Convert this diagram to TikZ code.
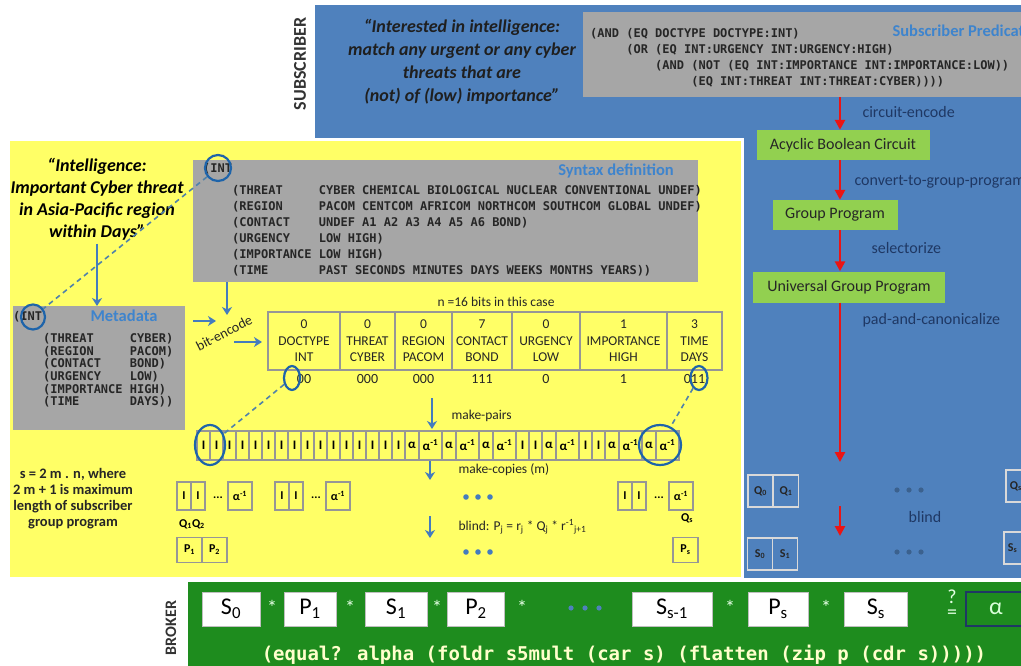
\documentclass[tikz,border=0pt]{standalone}
\usepackage{fontspec}
\setmainfont{Carlito}
\newfontfamily\lispfont{DejaVu Sans Mono}
\usetikzlibrary{arrows.meta,shapes.geometric}

\definecolor{subblue}{RGB}{79,129,189}
\definecolor{pubyellow}{RGB}{255,255,102}
\definecolor{codegray}{RGB}{166,166,166}
\definecolor{brokergreen}{RGB}{30,140,30}
\definecolor{stepgreen}{RGB}{146,208,80}
\definecolor{labelnavy}{RGB}{31,56,100}
\definecolor{arrowblue}{RGB}{68,124,190}
\definecolor{ringblue}{RGB}{30,100,170}
\definecolor{linkblue}{RGB}{80,130,170}
\definecolor{titleblue}{RGB}{62,132,205}
\definecolor{cellgray}{RGB}{150,150,150}
\definecolor{codecream}{RGB}{255,255,204}
\definecolor{arrowred}{RGB}{235,20,20}

\tikzset{
    quotetext/.style={align=center, text=black!88, font=\fontsize{18}{23}\selectfont\bfseries\itshape},
    lisp/.style={inner sep=0pt, anchor=north west, text=black!85, font=\fontsize{12}{16}\selectfont\lispfont\bfseries},
    graybox/.style={fill=codegray, draw=none, anchor=north west, inner sep=0pt},
    boxtitle/.style={text=titleblue, font=\fontsize{16.5}{16.5}\selectfont\bfseries},
    stage/.style={fill=stepgreen, text=black!85, inner sep=0pt, font=\fontsize{16}{16}\selectfont},
    steplabel/.style={text=labelnavy, anchor=west, font=\fontsize{16}{16}\selectfont},
    redarrow/.style={draw=arrowred, line width=2.6pt, -{Triangle[length=10pt,width=10pt]}},
    bluearrow/.style={draw=arrowblue, line width=2.4pt, -{Stealth[length=8pt,width=10pt,inset=2.5pt]}},
    ring/.style={draw=ringblue, line width=2.2pt, ellipse, inner sep=0pt},
    link/.style={draw=linkblue, line width=1.6pt, dash pattern=on 5pt off 4pt},
    fieldcell/.style={draw=cellgray, line width=2pt, minimum height=58, inner sep=0pt, align=center, text=black!85, font=\fontsize{13.5}{16.5}\selectfont},
    bitval/.style={text=black!85, font=\fontsize{14}{14}\selectfont},
    pcell/.style={draw=cellgray, line width=2pt, fill=pubyellow, minimum height=29, inner sep=0pt, font=\fontsize{13}{13}\selectfont\bfseries},
    qcell/.style={draw=cellgray, line width=1.8pt, minimum height=28, inner sep=0pt, font=\fontsize{12}{12}\selectfont\bfseries},
    bqcell/.style={draw=gray!30, line width=1.8pt, minimum height=32, minimum width=25, inner sep=0pt, text=black!85, font=\fontsize{12}{12}\selectfont\bfseries},
    plain/.style={text=black!85, font=\fontsize{13.5}{13.5}\selectfont},
    brokerbox/.style={fill=white, draw=gray!50, line width=1pt, minimum height=34, inner sep=0pt, font=\fontsize{24}{24}\selectfont},
    brokerop/.style={text=white!90!green, font=\fontsize{20}{20}\selectfont},
    sidelabel/.style={rotate=90, text=black!80, font=\fontsize{18}{18}\selectfont\bfseries}
}

\begin{document}
\begin{tikzpicture}[x=1pt,y=-1pt]
    \useasboundingbox (0,0) rectangle (1021,666);
    \clip (0,0) rectangle (1021,666);

    % subscriber side
    \fill[subblue] (315,5) rectangle (1021,578);
    \node[sidelabel] (sublabel) at (300,64) {SUBSCRIBER};
    \node[quotetext] (subquote) at (462,62) {“Interested in intelligence:\\match any urgent or any cyber\\threats that are\\(not) of (low) importance”};

    \node[graybox, minimum width=450, minimum height=85] (predbox) at (583,12) {};
    \node[lisp] (pred) at (590,26.5) {\begin{tabular}{@{}l@{}}
        (AND (EQ DOCTYPE DOCTYPE:INT)\\
        \hphantom{(AND }(OR (EQ INT:URGENCY INT:URGENCY:HIGH)\\
        \hphantom{(AND (OR }(AND (NOT (EQ INT:IMPORTANCE INT:IMPORTANCE:LOW))\\
        \hphantom{(AND (OR (AND }(EQ INT:THREAT INT:THREAT:CYBER))))
    \end{tabular}};
    \node[boxtitle, anchor=west] (predtitle) at (889,31) {Subscriber Predicate};

    \coordinate (spine) at (840,0);
    \node[stage, minimum width=173, minimum height=30] (abc) at (843,145) {Acyclic Boolean Circuit};
    \node[stage, minimum width=125, minimum height=30] (gp) at (835,215) {Group Program};
    \node[stage, minimum width=192, minimum height=31] (ugp) at (849,287) {Universal Group Program};
    \coordinate (padend) at (840,462);

    \draw[redarrow] (predbox.south -| spine) -- (abc.north -| spine);
    \draw[redarrow] (abc.south -| spine) -- (gp.north -| spine);
    \draw[redarrow] (gp.south -| spine) -- (ugp.north -| spine);
    \draw[redarrow] (ugp.south -| spine) -- (padend);
    \node[steplabel] (lblcircuit) at (859,112) {circuit-encode};
    \node[steplabel] (lblconvert) at (851,182) {convert-to-group-program};
    \node[steplabel] (lblselect) at (868,248) {selectorize};
    \node[steplabel] (lblpad) at (859,320) {pad-and-canonicalize};

    % blinded program on the subscriber side
    \node[bqcell] (bq0) at (760.5,491) {Q\textsubscript{0}};
    \node[bqcell] (bq1) at (786,491) {Q\textsubscript{1}};
    \node[bqcell] (bs0) at (760,554) {S\textsubscript{0}};
    \node[bqcell] (bs1) at (785,554) {S\textsubscript{1}};
    \node[bqcell, anchor=west, minimum width=36, text width=28, align=left] (bqs) at (1005,486) {Q\textsubscript{s}};
    \node[bqcell, anchor=west, minimum width=36, text width=28, align=left] (bss) at (1003,548) {S\textsubscript{s}};
    \coordinate (blindtop) at (840,506);
    \coordinate (blindend) at (840,536);
    \draw[redarrow] (blindtop) -- (blindend);
    \node[steplabel, anchor=center] (lblblind) at (925,517) {blind};
    \foreach \d in {0,1,2} {
        \fill[subblue!75!black] (897+\d*12,490) circle (2.6pt);
        \fill[subblue!75!black] (897+\d*12,552) circle (2.6pt);
    }

    % publisher side
    \draw[fill=pubyellow, draw=white, line width=3pt] (8,140) rectangle (742,578);
    \node[quotetext, font=\fontsize{18}{22}\selectfont\bfseries\itshape, text=black] (pubquote) at (97,199) {“Intelligence:\\Important Cyber threat\\in Asia-Pacific region\\within Days”};

    \node[graybox, minimum width=505, minimum height=122] (synbox) at (193,160) {};
    \node[lisp, anchor=west] (synint) at (203,169) {(INT};
    \node[lisp] (syntab) at (232,183) {\begin{tabular}{@{}l@{ }l@{}}
        (THREAT & CYBER CHEMICAL BIOLOGICAL NUCLEAR CONVENTIONAL UNDEF)\\
        (REGION & PACOM CENTCOM AFRICOM NORTHCOM SOUTHCOM GLOBAL UNDEF)\\
        (CONTACT & UNDEF A1 A2 A3 A4 A5 A6 BOND)\\
        (URGENCY & LOW HIGH)\\
        (IMPORTANCE & LOW HIGH)\\
        (TIME & PAST SECONDS MINUTES DAYS WEEKS MONTHS YEARS))
    \end{tabular}};
    \node[boxtitle] (syntitle) at (616,171) {Syntax definition};

    \node[graybox, minimum width=172, minimum height=124] (metabox) at (13,306) {};
    \node[lisp, anchor=west] (metaint) at (13,317) {(INT};
    \node[lisp, font=\fontsize{12}{12}\selectfont\lispfont\bfseries] (metatab) at (43,333) {\begin{tabular}{@{}l@{ }l@{}}
        (THREAT & CYBER)\\
        (REGION & PACOM)\\
        (CONTACT & BOND)\\
        (URGENCY & LOW)\\
        (IMPORTANCE & HIGH)\\
        (TIME & DAYS))
    \end{tabular}};
    \node[boxtitle] (metatitle) at (124,316) {Metadata};

    \node[ring, minimum width=26, minimum height=26] (ringsyn) at (218,168) {};
    \node[ring, minimum width=24, minimum height=25] (ringmeta) at (33,317) {};
    \draw[link] (ringsyn) -- (ringmeta);

    \coordinate (synout) at (227,315);
    \draw[bluearrow] (pubquote.south) -- (metabox.north -| pubquote.south);
    \draw[bluearrow] (synbox.south -| synout) -- (synout);
    \coordinate (enca) at (193,321);
    \coordinate (encb) at (216,321);
    \coordinate (encc) at (234,342);
    \coordinate (encd) at (262,342);
    \draw[bluearrow] (enca) -- (encb);
    \draw[bluearrow] (encc) -- (encd);
    \node[rotate=27, text=black!85, font=\fontsize{14}{14}\selectfont] (lblencode) at (224,333) {bit-encode};

    % bit fields
    \node[plain] (nbits) at (496,302) {n =16 bits in this case};
    \foreach \xl/\xr/\k/\f/\v/\b [count=\i] in {268/340/0/DOCTYPE/INT/00, 340/395/0/THREAT/CYBER/000, 395/452/0/REGION/PACOM/000, 452/512/7/CONTACT/BOND/111, 512/580/0/URGENCY/LOW/0, 580/667/1/IMPORTANCE/HIGH/1, 667/722/3/TIME/DAYS/011} {
        \node[fieldcell, minimum width={\xr-\xl}] (field\i) at ({(\xl+\xr)/2},341) {\k\\\f\\\v};
        \node[bitval] (bits\i) at ({(\xl+\xr)/2},379) {\b};
    }
    \node[ring, minimum width=16, minimum height=24] (ringbita) at (292,378) {};
    \node[ring, minimum width=17, minimum height=24] (ringbitb) at (699,378) {};

    \coordinate (pairtop) at (432,398);
    \coordinate (pairend) at (432,429);
    \draw[bluearrow] (pairtop) -- (pairend);
    \node[plain, anchor=west] (lblpairs) at (448,416) {make-pairs};

    % one pair of cells per bit
    \foreach \bit [count=\k, remember=\xe as \xs (initially 197)] in {0,0,0,0,0,0,0,0,1,1,1,0,1,0,1,1} {
        \ifnum\bit=0
            \def\wa{13}\def\wb{13}\def\ta{I}\def\tb{I}
        \else
            \def\wa{14}\def\wb{23}\def\ta{α}\def\tb{α\textsuperscript{-1}}
        \fi
        \pgfmathsetmacro\xe{\xs+\wa+\wb}
        \node[pcell, minimum width=\wa] (pa\k) at ({\xs+\wa/2},445) {\ta};
        \node[pcell, minimum width=\wb] (pb\k) at ({\xs+\wa+\wb/2},445) {\tb};
    }
    \node[ring, minimum width=30, minimum height=40] (ringpaira) at (210,445) {};
    \node[ring, minimum width=42, minimum height=40] (ringpairb) at (660,445) {};
    \draw[link] (ringbita) -- (ringpaira);
    \draw[link] (ringbitb) -- (ringpairb);

    \coordinate (copytop) at (430,461);
    \coordinate (copyend) at (430,480);
    \draw[bluearrow] (copytop) -- (copyend);
    \node[plain, anchor=west] (lblcopies) at (455,470) {make-copies (m)};
    \coordinate (pubblindtop) at (430,516);
    \coordinate (pubblindend) at (430,538);
    \draw[bluearrow] (pubblindtop) -- (pubblindend);
    \node[plain, anchor=west] (lblpblind) at (455,527) {blind: P\textsubscript{j} = r\textsubscript{j} * Q\textsubscript{j} * r\textsuperscript{-1}\textsubscript{j+1}};
    \foreach \d in {0,1,2} {
        \fill[arrowblue] (466+\d*12,497) circle (2.8pt);
        \fill[arrowblue] (466+\d*12,552) circle (2.8pt);
    }

    % copies of the program
    \foreach \gx [count=\g] in {177,275,618} {
        \node[qcell, minimum width=14] (qa\g) at (\gx+7,496) {I};
        \node[qcell, minimum width=14] (qb\g) at (\gx+21,496) {I};
        \node[font=\fontsize{12}{12}\selectfont\bfseries] (qdots\g) at (\gx+41,498) {...};
        \node[qcell, minimum width=24] (qc\g) at (\gx+63,496) {α\textsuperscript{-1}};
    }
    \node[font=\fontsize{12}{12}\selectfont\bfseries] (lblq) at (192,524) {Q\textsubscript{1}Q\textsubscript{2}};
    \node[font=\fontsize{12}{12}\selectfont\bfseries] (lblqs) at (687,518) {Q\textsubscript{s}};
    \node[qcell, minimum width=25, minimum height=25] (pp1) at (189.5,550) {P\textsubscript{1}};
    \node[qcell, minimum width=25, minimum height=25] (pp2) at (214.5,550) {P\textsubscript{2}};
    \node[qcell, minimum width=25, minimum height=25] (pps) at (685.5,550) {P\textsubscript{s}};

    \node[align=center, text=black!85, font=\fontsize{14.5}{16}\selectfont\bfseries] (sizenote) at (73,499) {s = 2 m . n, where\\2 m + 1 is maximum\\length of subscriber\\group program};

    % broker
    \fill[brokergreen] (188,582) rectangle (1021,666);
    \node[sidelabel, font=\fontsize{16}{16}\selectfont\bfseries] (brokerlabel) at (171,628) {BROKER};
    \foreach \name/\cx/\w/\txt in {bs0/231/58/S\textsubscript{0}, bp1/310/52/P\textsubscript{1}, bsa/396/62/S\textsubscript{1}, bp2/476/57/P\textsubscript{2}, bsb/672/80/S\textsubscript{s-1}, bps/778/60/P\textsubscript{s}, bss/876/63/S\textsubscript{s}}
        \node[brokerbox, minimum width=\w] (\name) at (\cx,609) {\txt};
    \foreach \x in {272,350,437,522,730,826}
        \node[brokerop] at (\x,607) {*};
    \foreach \d in {0,1,2}
        \fill[subblue] (571+\d*14,608) circle (2.6pt);
    \node[brokerop] (query) at (952,597) {?};
    \node[brokerop] (equals) at (952,614) {=};
    \node[draw=labelnavy, line width=1.5pt, fill=brokergreen, minimum width=60, minimum height=34, text=green!15!white, font=\fontsize{24}{24}\selectfont] (alpha) at (996,609) {α};
    \node[text=codecream, font=\fontsize{19}{19}\selectfont\lispfont\bfseries] (brokercode) at (624,655) {(equal? alpha (foldr s5mult (car s) (flatten (zip p (cdr s)))))};
\end{tikzpicture}
\end{document}
